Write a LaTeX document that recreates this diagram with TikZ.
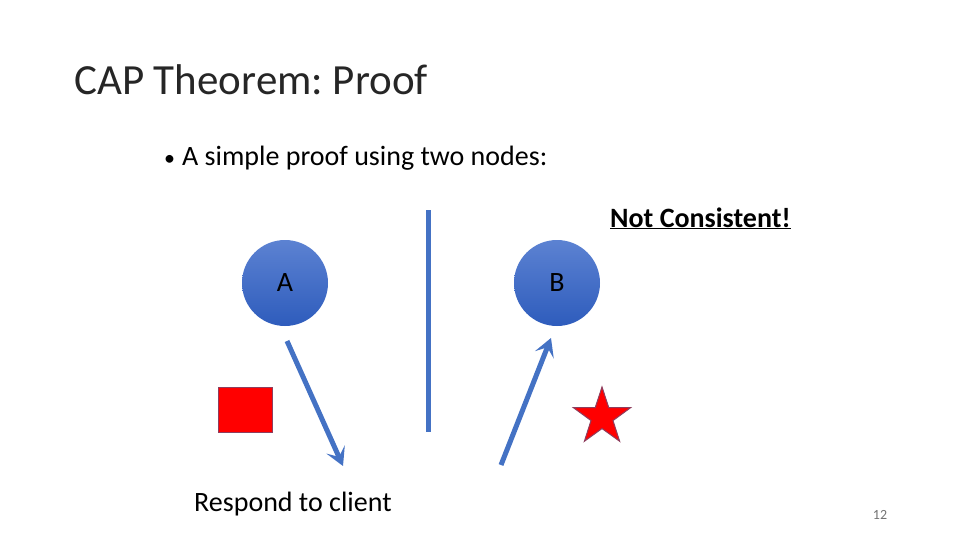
\documentclass[tikz,border=0pt]{standalone}
\usepackage{fontspec}
\setmainfont{Carlito}
\frenchspacing
\usetikzlibrary{shapes.geometric,arrows.meta}
\definecolor{accblue}{HTML}{4472C4}
\definecolor{circtop}{HTML}{5C82D2}
\definecolor{circbot}{HTML}{2E5CBC}
\definecolor{redborder}{HTML}{8E3E5E}
\tikzset{
  nodecirc/.style={circle, minimum size=86pt, inner sep=0pt, top color=circtop, bottom color=circbot, draw=none, font=\fontsize{28}{32}\selectfont, text=black},
  flow/.style={draw=accblue, line width=5pt, -{Stealth[length=18pt,width=20pt,inset=8pt]}},
  partition/.style={draw=accblue, line width=5pt},
  redshape/.style={fill=red, draw=redborder, line width=1pt},
  bodytext/.style={anchor=base west, font=\fontsize{28}{33}\selectfont, inner sep=0pt},
}
\begin{document}
\begin{tikzpicture}[x=1pt,y=-1pt]
\useasboundingbox (0,0) rectangle (960,540);
\node[anchor=base west, font=\fontsize{43}{50}\selectfont, text=black!85, inner sep=0pt] (title) at (74,95) {CAP Theorem: Proof};
\node[bodytext, font=\fontsize{22}{26}\selectfont] (dot) at (164,166) {•};
\node[bodytext] (bullet) at (182,166) {A simple proof using two nodes:};
\node[anchor=base west, font=\bfseries\fontsize{28}{32}\selectfont, inner sep=0pt] (nc) at (610,227) {\underline{Not Consistent!}};
\node[nodecirc] (A) at (285,283) {A};
\node[nodecirc] (B) at (557,283) {B};
\coordinate (ptop) at (428,210);
\coordinate (pbot) at (428,432);
\draw[partition] (ptop) -- (pbot);
\coordinate (a1) at (287,341);
\coordinate (a2) at (343,466);
\draw[flow] (a1) -- (a2);
\coordinate (b1) at (501,465);
\coordinate (b2) at (551,338);
\draw[flow] (b1) -- (b2);
\node[redshape, rectangle, minimum width=54pt, minimum height=45pt, inner sep=0pt] (rect) at (245,409.5) {};
\node[redshape, star, star points=5, star point ratio=2.6, minimum size=60pt, inner sep=0pt] (star) at (602,417) {};
\node[bodytext] (resp) at (194,511) {Respond to client};
\node[anchor=base, font=\fontsize{14}{16}\selectfont, text=black!55] (num) at (880,519) {12};
\end{tikzpicture}
\end{document}
